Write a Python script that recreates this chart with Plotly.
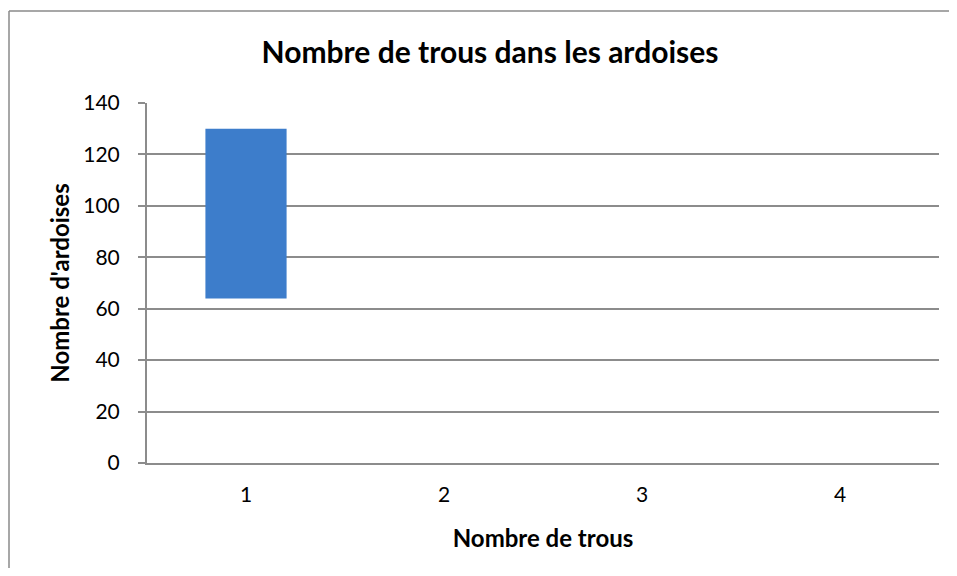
import plotly.graph_objects as go

# data
trous = ["1", "2", "3", "4"]
ardoises_haut = [130, 0, 0, 0]
ardoises_bas = [64, 0, 0, 0]
y_ticks = [0, 20, 40, 60, 80, 100, 120, 140]

FONT = "Lato"
GRID = "#8c8c8c"
OFF = 8  # page body margin in the browser

hauteurs = [h - b for h, b in zip(ardoises_haut, ardoises_bas)]

bar = go.Bar(
    x=trous, y=hauteurs, base=ardoises_bas,
    width=0.41,
    marker=dict(color="#3d7dcb", line=dict(color="#2c5f9e", width=0)),
    showlegend=False,
)

# keep the figure inside the window so no scrollbar appears
W, H = 957 - 2 * OFF, 576 - 2 * OFF
fig = go.Figure(data=[bar])
fig.update_layout(
    width=W, height=H,
    paper_bgcolor="white", plot_bgcolor="white",
    margin=dict(l=147 - OFF, r=957 - 939 - OFF,
                t=103 - OFF, b=576 - 463 - OFF),
    font=dict(family=FONT, color="black", size=21),
    title=dict(text="<b>Nombre de trous dans les ardoises</b>",
               x=(490 - OFF) / W, xref="container", xanchor="center",
               y=1 - (52 - OFF) / H, yref="container", yanchor="middle",
               font=dict(size=30, family=FONT)),
)
fig.update_xaxes(
    title=dict(text="<b>Nombre de trous</b>", font=dict(size=24), standoff=25),
    showline=True, linecolor=GRID, linewidth=2,
    ticks="", tickfont=dict(size=21), ticklabelstandoff=12,
    showgrid=False,
)
fig.update_yaxes(
    title=dict(text="<b>Nombre d'ardoises</b>", font=dict(size=24), standoff=7),
    range=[0, 140], tickvals=y_ticks,
    showline=True, linecolor=GRID, linewidth=2,
    ticks="outside", ticklen=7, tickcolor=GRID, tickwidth=2,
    tickfont=dict(size=21), ticklabelstandoff=14,
    showgrid=True, gridcolor=GRID, gridwidth=1.5,
    zeroline=False,
)
# outer chart frame: only the top and left edges show in the picture
fx0 = (1 - (147 - OFF)) / 792
fy1 = 1 + 92 / 360
frame = dict(color="#8a8a8a", width=1.5)
fig.add_shape(type="line", xref="paper", yref="paper",
              x0=fx0, x1=1.5, y0=fy1, y1=fy1, line=frame, layer="below")
fig.add_shape(type="line", xref="paper", yref="paper",
              x0=fx0, x1=fx0, y0=-0.6, y1=fy1, line=frame, layer="below")

fig.write_html("out.html")
